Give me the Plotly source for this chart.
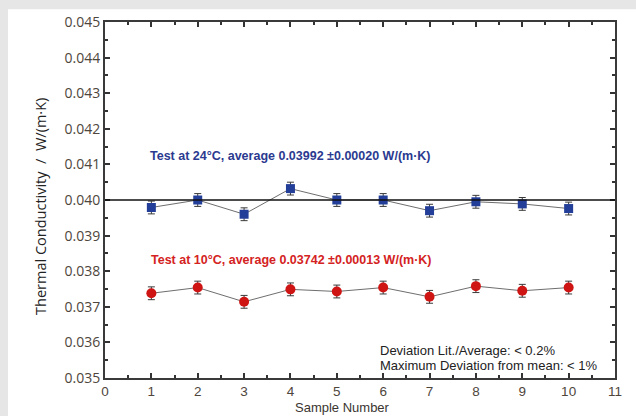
import plotly.graph_objects as go

samples = [1, 2, 3, 4, 5, 6, 7, 8, 9, 10]
k_24 = [0.03979, 0.04000, 0.03960, 0.04032, 0.04000, 0.04000, 0.03970, 0.03995, 0.03989, 0.03976]
err_24 = [0.00018] * 10
k_10 = [0.03738, 0.03754, 0.03714, 0.03749, 0.03743, 0.03754, 0.03728, 0.03758, 0.03745, 0.03754]
err_10 = [0.00018] * 10
literature_value = 0.040

label_24 = "Test at 24°C, average 0.03992 ±0.00020 W/(m·K)"
label_10 = "Test at 10°C, average 0.03742 ±0.00013 W/(m·K)"
note_lines = ["Deviation Lit./Average: < 0.2%", "Maximum Deviation from mean: < 1%"]

W, H = 636, 416
L, R, T, B = 105, 21, 18, 38
pw, ph = W - L - R, H - T - B

def px(xp):
    return (xp - L) / pw

def py(yp):
    return 1 - (yp - T) / ph

fig = go.Figure()

fig.add_trace(go.Scatter(
    x=samples, y=k_24, mode="lines+markers",
    line=dict(color="#6e6e6e", width=1),
    marker=dict(symbol="square", size=9, color="#233e98", line=dict(width=0)),
    error_y=dict(type="data", array=err_24, color="#3a3a3a", thickness=1, width=3.5),
    showlegend=False,
))
fig.add_trace(go.Scatter(
    x=samples, y=k_10, mode="lines+markers",
    line=dict(color="#6e6e6e", width=1),
    marker=dict(symbol="circle", size=10, color="#cf1414", line=dict(width=0)),
    error_y=dict(type="data", array=err_10, color="#3a3a3a", thickness=1, width=3.5),
    showlegend=False,
))

shapes = [
    dict(type="rect", xref="paper", yref="paper", x0=px(8), x1=px(W + 2), y0=py(H + 2), y1=py(5),
         fillcolor="white", line=dict(width=0), layer="below"),
    dict(type="line", xref="paper", yref="y", x0=0, x1=1, y0=literature_value, y1=literature_value,
         line=dict(color="#111111", width=1.6)),
]

ytickfont = dict(family="Open Sans, sans-serif", size=14, color="#4e463c")
xtickfont = dict(family="Liberation Sans, Arial, sans-serif", size=13.5, color="#4e463c")

annotations = [
    dict(text=label_24, xref="paper", yref="paper", x=px(148), y=py(154), xanchor="left", yanchor="middle",
         showarrow=False, font=dict(family="Liberation Sans Narrow, Arial, sans-serif", size=12.5, color="#2b3a90", weight="bold")),
    dict(text=label_10, xref="paper", yref="paper", x=px(149), y=py(259), xanchor="left", yanchor="middle",
         showarrow=False, font=dict(family="Liberation Sans Narrow, Arial, sans-serif", size=12.5, color="#d42222", weight="bold")),
    dict(text=note_lines[0], xref="paper", yref="paper", x=px(378), y=py(350), xanchor="left", yanchor="middle",
         showarrow=False, font=dict(family="Liberation Sans, Arial, sans-serif", size=13, color="#222222")),
    dict(text=note_lines[1], xref="paper", yref="paper", x=px(378), y=py(365), xanchor="left", yanchor="middle",
         showarrow=False, font=dict(family="Liberation Sans, Arial, sans-serif", size=13, color="#222222")),
    dict(text="Sample Number", xref="paper", yref="paper", x=px(342), y=py(416), xanchor="center", yanchor="bottom",
         showarrow=False, borderpad=0, font=dict(family="Liberation Sans, Arial, sans-serif", size=13, color="#3a3530")),
    dict(text="Thermal Conductivity  /  W/(m·K)", xref="paper", yref="paper", x=px(41), y=py(205),
         xanchor="center", yanchor="middle", textangle=-90,
         showarrow=False, font=dict(family="Open Sans, sans-serif", size=14.5, color="#222222")),
]

fig.update_layout(
    width=W, height=H,
    margin=dict(l=L, r=R, t=T, b=B, pad=0),
    paper_bgcolor="#e6e6e6",
    plot_bgcolor="white",
    shapes=shapes,
    annotations=annotations,
    xaxis=dict(range=[0, 11], dtick=1, tick0=0, ticks="inside", ticklen=5, tickwidth=1.5, tickcolor="#333",
               showline=True, linecolor="#3a3a3a", linewidth=2, mirror="allticks",
               showgrid=False, zeroline=False, tickfont=xtickfont, ticklabelstandoff=0,
               minor=dict(dtick=0.5, ticks="inside", ticklen=3, tickcolor="#333", showgrid=False)),
    yaxis=dict(range=[0.035, 0.045], dtick=0.001, tick0=0.035, tickformat=".3f", ticks="inside", ticklen=5,
               tickwidth=1.5, tickcolor="#333",
               showline=True, linecolor="#3a3a3a", linewidth=2, mirror="allticks",
               showgrid=False, zeroline=False, tickfont=ytickfont,
               minor=dict(dtick=0.0005, ticks="inside", ticklen=3, tickcolor="#333", showgrid=False)),
)

fig.write_html("out.html")
